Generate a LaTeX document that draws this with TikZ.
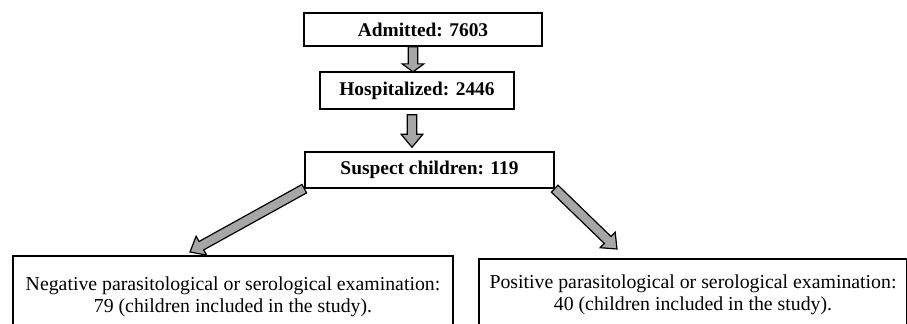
\documentclass[tikz,border=0pt]{standalone}
\usepackage{fontspec}
\setmainfont{Liberation Serif}
\usetikzlibrary{calc}

% thick grey block arrow from #1 to #2, head length #3
\newcommand{\fatarrow}[3]{%
  \coordinate (fah) at ($(#2)!#3!(#1)$);
  \draw[fat arrow] ($(#1)!2.4pt!90:(#2)$) -- ($(fah)!2.4pt!-90:(#1)$)
    -- ($(fah)!5.4pt!-90:(#1)$) -- (#2) -- ($(fah)!5.4pt!90:(#1)$)
    -- ($(fah)!2.4pt!90:(#1)$) -- ($(#1)!2.4pt!-90:(#2)$) -- cycle;
}

\begin{document}
\begin{tikzpicture}[x=0.5pt, y=-0.5pt,
    stage/.style={draw, line width=0.7pt, inner sep=0pt,
      font=\fontsize{9.7}{11.5}\selectfont\bfseries},
    result/.style={draw, line width=0.7pt, inner sep=0pt, align=center,
      font=\fontsize{9.9}{11}\selectfont},
    fat arrow/.style={draw=black, line width=0.6pt, fill=gray!70}]
    \clip (0,0) rectangle (907,324);

    % counts
    \node[stage, minimum width=119pt, minimum height=16.5pt] (adm) at (423,29.5) {Admitted: 7603};
    \node[stage, minimum width=97pt, minimum height=18.5pt] (hosp) at (417,90.5) {Hospitalized: 2446};
    \node[stage, minimum width=124.5pt, minimum height=18pt] (susp) at (429.5,170) {Suspect children: 119};

    % outcome of the examination (boxes run past the lower edge)
    \node[result, minimum width=220pt, minimum height=41pt] (neg) at (233,297)
      {Negative parasitological or serological examination:\\ 79 (children included in the study).};
    \node[result, minimum width=214pt, minimum height=35.5pt] (pos) at (693,294.5)
      {Positive parasitological or serological examination:\\ 40 (children included in the study).};

    % arrows
    \coordinate (a1s) at ([xshift=-5pt]adm.south);
    \coordinate (a1e) at ([xshift=-2pt, yshift=-0.3pt]hosp.north);
    \coordinate (a2s) at ([xshift=-2.5pt, yshift=-2.5pt]hosp.south);
    \coordinate (a2e) at ([xshift=-8.75pt, yshift=2pt]susp.north);
    \coordinate (negtip) at (190,252);
    \coordinate (postip) at (617,249);
    \fatarrow{a1s}{a1e}{4pt}
    \fatarrow{a2s}{a2e}{6.5pt}
    \fatarrow{susp.south west}{negtip}{6.5pt}
    \fatarrow{susp.south east}{postip}{6.5pt}
\end{tikzpicture}
\end{document}
